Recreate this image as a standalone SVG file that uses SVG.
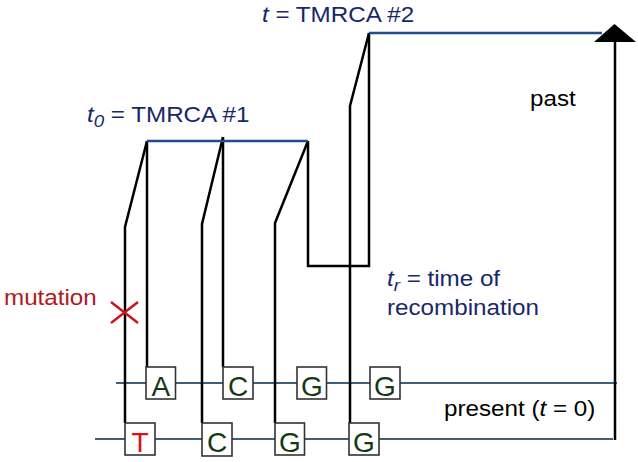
<svg xmlns="http://www.w3.org/2000/svg" width="638" height="462" viewBox="0 0 638 462">
<style>
  .lbl { font-family: "Liberation Sans", Arial, sans-serif; font-size: 22px; }
  .navy { fill: #17286a; }
  .blk { fill: #000000; }
  .red { fill: #ad1a1f; }
  .it { font-style: italic; }
  .seq { stroke: #3e6078; stroke-width: 2; fill: none; }
  .lin { stroke: #000000; stroke-width: 2.5; fill: none; stroke-linejoin: miter; }
  .tm { stroke: #1f4e8c; stroke-width: 2.5; fill: none; }
  .box rect { fill: #ffffff; stroke: #333333; stroke-width: 1.6; }
  .box text { font-family: "Liberation Sans", Arial, sans-serif; font-size: 28px; text-anchor: middle; fill: #143a14; }
</style>
<rect width="638" height="462" fill="#ffffff"/>

<g id="sequences">
  <line class="seq" x1="116" y1="383" x2="617" y2="383"/>
  <line class="seq" x1="95" y1="439" x2="613" y2="439"/>
</g>

<g id="connectors">
  <path class="lin" d="M125,423 V227 L147,141"/>
  <path class="lin" d="M147,141 V367"/>
  <path class="lin" d="M202,423 V224 L223,137"/>
  <path class="lin" d="M223,137 V367"/>
  <path class="lin" d="M275,423 V223 L308,141"/>
  <path class="lin" d="M308,141 V266 H369 V33"/>
  <path class="lin" d="M350,423 V106 L369,33"/>
  <path class="tm" d="M147,141 H308"/>
  <path class="tm" d="M369,33 H602"/>
</g>

<g id="time-axis">
  <line x1="615" y1="440" x2="615" y2="40" stroke="#000" stroke-width="2.5"/>
  <polygon points="594,42 636,42 614.5,24" fill="#000"/>
</g>

<g id="mutation-mark">
  <path d="M111,302 L138,323 M111,323 L138,302" stroke="#c8161e" stroke-width="2.5" fill="none"/>
</g>

<g id="box-A" class="box"><rect x="146" y="367" width="29.5" height="32"/><text x="160.8" y="395.5">A</text></g>
<g id="box-C1" class="box"><rect x="223" y="367" width="30" height="32"/><text x="238" y="395.5">C</text></g>
<g id="box-G1" class="box"><rect x="297" y="367" width="29.5" height="32"/><text x="311.8" y="395.5">G</text></g>
<g id="box-G2" class="box"><rect x="370" y="367" width="30" height="32"/><text x="385" y="395.5">G</text></g>

<g id="box-T" class="box"><rect x="125" y="423" width="30" height="32"/><text x="140" y="451.5" style="fill:#e01010">T</text></g>
<g id="box-C2" class="box"><rect x="202" y="423" width="30" height="33"/><text x="217" y="451.5">C</text></g>
<g id="box-G3" class="box"><rect x="275" y="423" width="29.5" height="32"/><text x="289.8" y="451.5">G</text></g>
<g id="box-G4" class="box"><rect x="349" y="423" width="30" height="32"/><text x="364" y="451.5">G</text></g>

<g id="labels">
  <text class="lbl navy" transform="translate(262,21.5) scale(1.1,1)"><tspan class="it">t</tspan> = TMRCA #2</text>
  <text class="lbl navy" transform="translate(87,121.5) scale(1.1,1)"><tspan class="it">t</tspan><tspan class="it" font-size="17" dy="5">0</tspan><tspan dy="-5"> = TMRCA #1</tspan></text>
  <text class="lbl blk" transform="translate(530,106) scale(1.1,1)">past</text>
  <text class="lbl navy" transform="translate(387,286) scale(1.1,1)"><tspan class="it">t</tspan><tspan class="it" font-size="17" dy="5">r</tspan><tspan dy="-5"> = time of</tspan></text>
  <text class="lbl navy" transform="translate(387,315) scale(1.1,1)">recombination</text>
  <text class="lbl red" transform="translate(4,305) scale(1.1,1)">mutation</text>
  <text class="lbl blk" transform="translate(444,416) scale(1.1,1)">present (<tspan class="it">t</tspan> = 0)</text>
</g>
</svg>
